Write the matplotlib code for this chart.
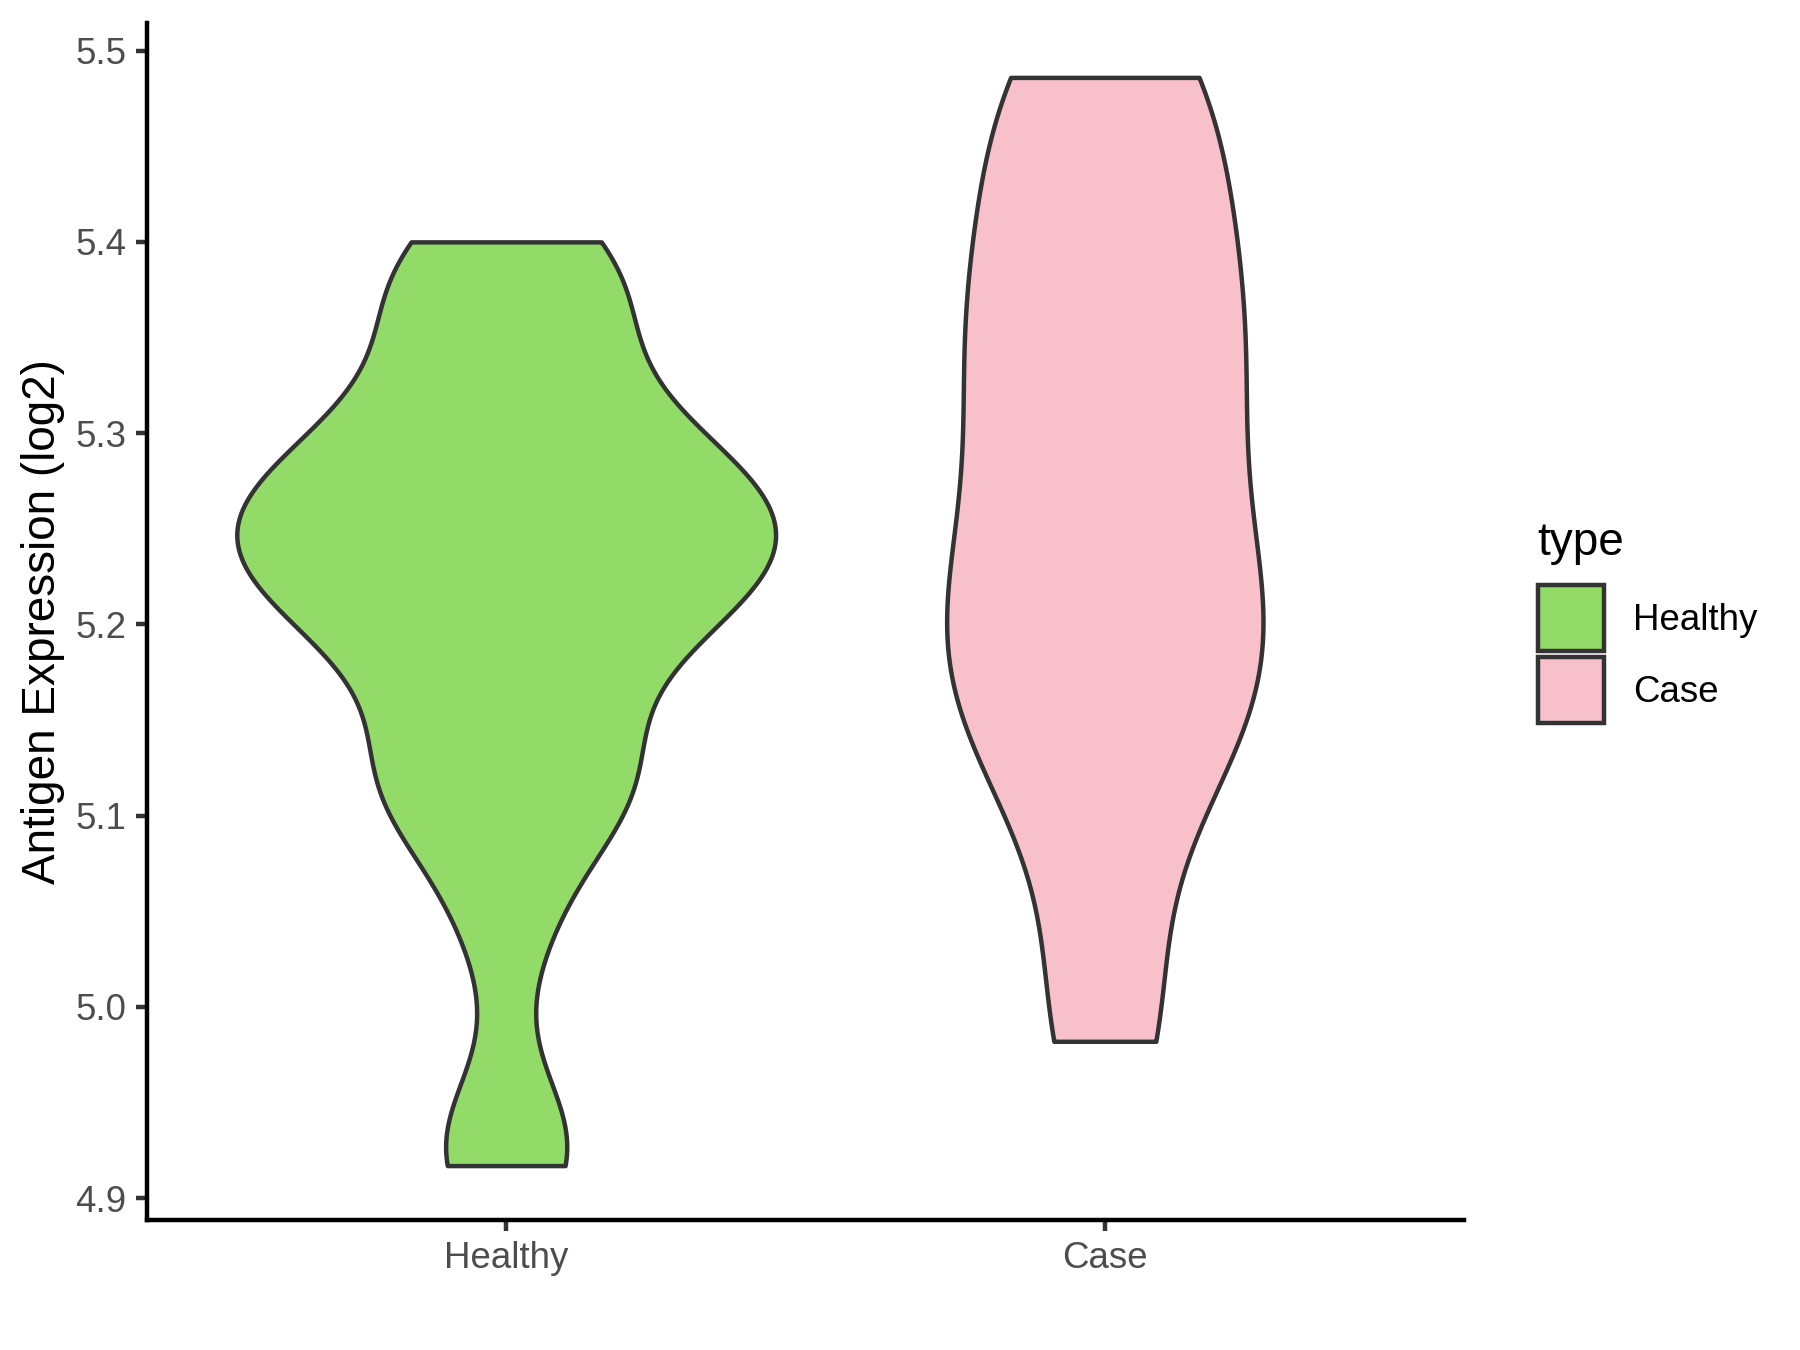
import numpy as np
import matplotlib
matplotlib.use("Agg")
import matplotlib.pyplot as plt
from matplotlib.patches import Rectangle

# data: antigen expression values (log2) per group
groups = ["Healthy", "Case"]
healthy_vals = [4.917, 4.935, 5.043, 5.109, 5.112, 5.113, 5.154, 5.189, 5.196, 5.217,
                5.226, 5.230, 5.237, 5.256, 5.265, 5.268, 5.273, 5.297, 5.305, 5.338,
                5.375, 5.380, 5.400]
case_vals = [4.982, 4.996, 5.083, 5.133, 5.138, 5.172, 5.174, 5.186, 5.231, 5.236,
             5.240, 5.298, 5.308, 5.337, 5.356, 5.374, 5.402, 5.423, 5.473, 5.486,
             5.486]
bandwidths = [0.0392, 0.0601]
colors = ["#93DB69", "#F7C0CB"]

plt.rcParams['font.family'] = ['Liberation Sans', 'DejaVu Sans']


def kde(values, bw, n=512):
    # gaussian density on the data range (trimmed violin)
    x = np.asarray(values)
    grid = np.linspace(x.min(), x.max(), n)
    d = np.exp(-0.5 * ((grid[:, None] - x[None, :]) / bw) ** 2).sum(axis=1)
    d = d / (len(x) * bw * np.sqrt(2 * np.pi))
    return grid, d


fig = plt.figure(figsize=(6, 4.5), dpi=300)
ax = fig.add_axes([147 / 1800, 130 / 1350, 1317 / 1800, 1197 / 1350])

dens = [kde(v, bw) for v, bw in zip([healthy_vals, case_vals], bandwidths)]
dmax = max(d.max() for _, d in dens)  # scale = "area"

for i, (grid, d) in enumerate(dens):
    pos = i + 1
    w = d / dmax * 0.45
    ax.fill_betweenx(grid, pos - w, pos + w, facecolor=colors[i],
                     edgecolor="#333333", linewidth=1.07)

ax.set_xlim(0.4, 2.6)
allv = healthy_vals + case_vals
rng = max(allv) - min(allv)
ax.set_ylim(min(allv) - 0.05 * rng, max(allv) + 0.05 * rng)
ax.set_xticks([1, 2])
ax.set_xticklabels(groups)
ax.set_yticks([4.9, 5.0, 5.1, 5.2, 5.3, 5.4, 5.5])
ax.set_yticklabels(["4.9", "5.0", "5.1", "5.2", "5.3", "5.4", "5.5"])

for s in ["top", "right"]:
    ax.spines[s].set_visible(False)
for s in ["left", "bottom"]:
    ax.spines[s].set_linewidth(1.07)
    ax.spines[s].set_color("black")
ax.tick_params(length=2.75, width=1.07, color="#333333", labelcolor="#4D4D4D",
               labelsize=8.8, pad=2.2)

fig.text(43 / 1800, 1 - 622 / 1350, "Antigen Expression (log2)", rotation=90,
         ha="center", va="center", fontsize=11)

# legend drawn by hand, ggplot style
fig.text(1537 / 1800, 1 - 555 / 1350, "type", ha="left", va="baseline", fontsize=11)
for i, lab in enumerate(groups):
    top = 585 + 72 * i
    fig.patches.append(Rectangle((1538 / 1800, 1 - (top + 66) / 1350), 66 / 1800, 66 / 1350,
                                 transform=fig.transFigure, facecolor=colors[i],
                                 edgecolor="#333333", linewidth=1.07))
    fig.text(1633 / 1800, 1 - (top + 45) / 1350, lab, ha="left", va="baseline", fontsize=8.8)

fig.savefig("out.png", dpi=300)
